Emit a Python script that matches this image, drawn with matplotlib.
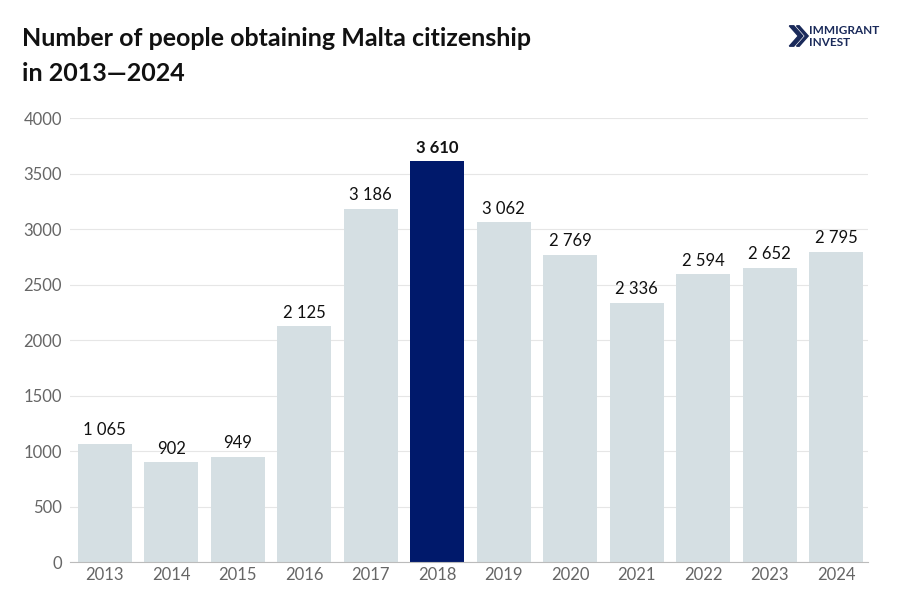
import matplotlib.pyplot as plt
from matplotlib.patches import Polygon

years = ['2013', '2014', '2015', '2016', '2017', '2018', '2019', '2020', '2021', '2022', '2023', '2024']
people = [1065, 902, 949, 2125, 3186, 3610, 3062, 2769, 2336, 2594, 2652, 2795]
highlight = '2018'

plt.rcParams['font.family'] = ['Lato', 'DejaVu Sans']

fig = plt.figure(figsize=(9, 6), dpi=100)
ax = fig.add_axes([0.078, 0.063, 0.886, 0.74])

colors = ['#00196b' if y == highlight else '#d5dfe3' for y in years]
x = range(len(years))
ax.bar(x, people, width=0.81, color=colors, zorder=2)

for i, v in enumerate(people):
    lab = '{:,}'.format(v).replace(',', ' ')
    ax.text(i, v + 50, lab, ha='center', va='bottom', fontsize=12, color='#111111',
            fontweight='bold' if years[i] == highlight else 'normal')

ax.set_xlim(-0.52, 11.47)
ax.set_ylim(0, 4000)
ax.set_yticks(range(0, 4001, 500))
ax.set_xticks(list(x))
ax.set_xticklabels(years)
ax.tick_params(axis='both', length=0, labelsize=12, labelcolor='#666666')
ax.tick_params(axis='y', pad=6)
ax.grid(axis='y', color='#e6e6e6', linewidth=0.8, zorder=0)
for s in ['top', 'right', 'left']:
    ax.spines[s].set_visible(False)
ax.spines['bottom'].set_color('#bbbbbb')

fig.text(0.025, 0.935, 'Number of people obtaining Malta citizenship', fontsize=18,
         fontweight='bold', color='#111111', va='center')
fig.text(0.025, 0.877, 'in 2013\u20142024', fontsize=18, fontweight='bold', color='#111111', va='center')

# logo
fig.text(0.899, 0.949, 'IMMIGRANT', fontsize=8.5, fontweight='bold', color='#1a2a5a', va='center')
fig.text(0.899, 0.930, 'INVEST', fontsize=8.5, fontweight='bold', color='#1a2a5a', va='center')
fig.patches.append(Polygon([[0.877, 0.957], [0.887, 0.940], [0.877, 0.923], [0.882, 0.923], [0.892, 0.940], [0.882, 0.957]],
                           closed=True, transform=fig.transFigure, color='#1a2a5a'))
fig.patches.append(Polygon([[0.885, 0.957], [0.895, 0.940], [0.885, 0.923], [0.888, 0.923], [0.898, 0.940], [0.888, 0.957]],
                           closed=True, transform=fig.transFigure, color='#1a2a5a'))

fig.savefig('out.png', dpi=100)
